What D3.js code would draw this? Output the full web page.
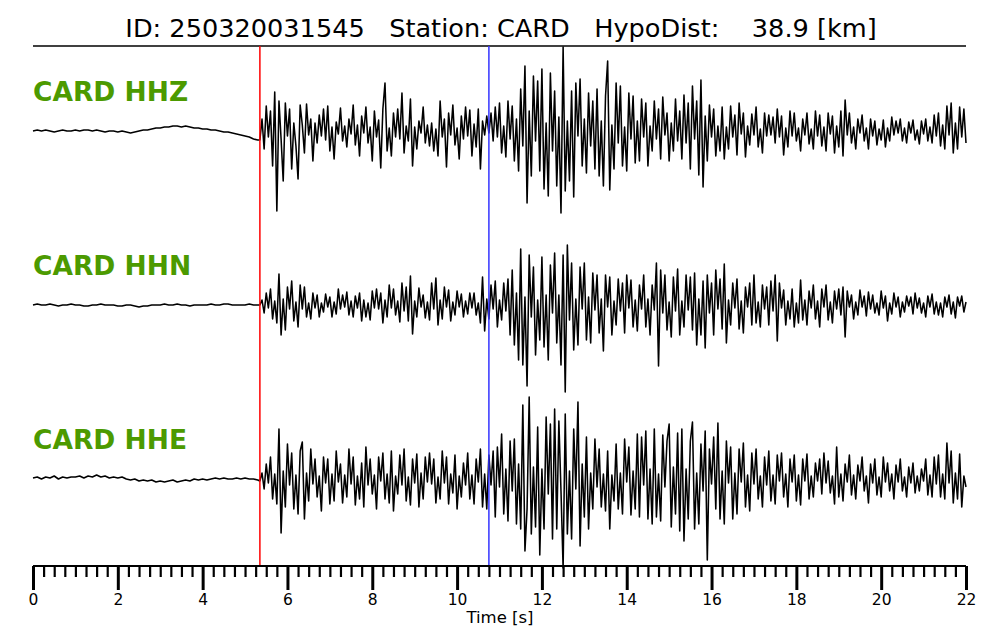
<!DOCTYPE html>
<html><head><meta charset="utf-8">
<script src="https://cdn.jsdelivr.net/npm/d3@7"></script>
<style>body{margin:0;background:#fff}svg{display:block}</style>
</head><body><svg id="c" width="1000" height="640"></svg>
<script>
// ---------- data ----------
const eventId = "250320031545";
const station = "CARD";
const hypoDist = "38.9";
const channels = ["HHZ", "HHN", "HHE"];
const pPick = 5.35;     // s
const sPick = 10.75;    // s
const preDt = 0.1;      // s, samples from t=0
const postStart = 5.35; // s
const postDt = 0.05;    // s
const timeMax = 22;
const majorTicks = [0, 2, 4, 6, 8, 10, 12, 14, 16, 18, 20, 22];

// amplitudes (counts)
const hhzPre = [0,1,0,1,0,-1,0,1,0,0, 1,0,1,1,0,1,0,-1,0,0, -1,0,-1,-2,-1,0,1,1,2,3,
  3,4,4,5,5,4,5,4,3,3, 2,2,1,1,0,-1,-1,-2,-3,-4, -5,-6,-8,-9];
const hhzPost = [
  -9,12,-18,25,-6,20,-35,39,-80,30,-8,-50,28,-5,22,-38,8,-15,-48,26,
  6,-22,27,-4,12,-30,8,-12,16,-5,22,-9,25,-20,4,-28,9,-3,23,-10,
  5,-16,12,-3,26,-14,6,-25,15,-2,24,-12,4,-30,20,-6,11,-37,22,48,
  -20,3,-25,18,-6,22,-8,38,-22,5,-10,32,-35,4,-18,10,-2,24,-12,6,
  -15,8,-20,2,-25,30,-6,12,-36,18,-4,26,-14,3,-28,15,-8,24,-5,21,
  -25,7,-16,22,-38,10,-4,15,-2,18,-10,24,-6,28,-22,5,-26,30,-8,25,
  -30,12,-40,42,-15,65,-72,20,-45,55,-10,50,-40,62,-58,8,-65,58,-20,40,
  -55,14,-82,84,-60,10,-50,40,-66,48,-5,52,-35,12,-42,38,-15,30,-38,42,
  -45,10,-55,35,70,-59,6,-38,48,-12,45,-35,4,-40,38,-8,35,-32,10,-30,
  32,-6,28,-35,5,-20,30,-8,22,-28,34,-4,18,-30,8,-20,32,-10,20,-28,
  36,-12,28,-38,45,-8,30,-44,51,-56,15,-30,26,-6,22,-25,5,-20,24,-28,
  4,-18,25,-6,16,-24,28,-3,18,-26,5,-14,17,-4,24,-16,2,-22,18,-5,
  16,-4,14,-12,22,-6,15,-24,3,-16,20,-5,18,-10,3,-20,12,-4,18,-13,
  2,-18,20,-5,16,-15,4,-20,18,-3,15,-22,5,-16,20,-25,31,-4,18,-12,
  4,-18,12,-2,16,-10,3,-18,12,-5,10,-14,2,-9,11,-16,3,-10,14,-4,
  10,-2,12,-10,3,-12,9,-2,11,-9,1,-13,10,-3,12,-10,4,-12,16,-5,
  18,-15,6,-18,25,-4,28,-22,8,-18,24,-6,22,-12];

const hhnPre = [0,1,0,0,1,0,-1,0,0,1, 0,0,-1,-1,0,0,1,0,0,0, -1,-1,0,0,-1,-2,-1,-1,0,0,
  0,1,0,0,1,0,0,-1,0,0, 0,0,1,0,0,1,1,0,0,0, 0,1,0,0];
const hhnPost = [
  0,5,-8,12,-3,16,-14,4,-18,31,-30,6,-25,18,-4,24,-16,3,-22,20,
  -4,18,-12,2,-14,12,-3,10,-12,2,-7,11,-2,8,-12,3,-9,16,-4,10,
  -2,13,-10,4,-12,9,-3,12,-16,5,-12,2,-15,14,-3,16,-4,12,-18,5,
  -12,20,-3,16,-10,4,-17,22,-6,18,-16,29,-29,4,-12,17,-2,10,-13,3,
  -15,22,-4,27,-20,5,-14,18,-2,15,-16,3,-10,14,-2,11,-12,4,-9,12,
  -3,12,-10,2,-18,28,-26,6,-14,20,-4,24,-22,5,-15,22,-6,26,-30,35,
  -40,12,-55,56,-60,8,-81,50,-12,38,-50,5,-35,48,-42,10,-55,40,-8,52,
  -38,10,-60,50,-87,60,-15,42,-45,6,-40,38,-4,42,-35,8,-38,32,-5,30,
  -28,6,-46,30,-2,28,-30,4,-20,26,-6,22,-28,30,-3,25,-22,5,-26,20,
  -4,30,-22,6,-30,20,-5,42,-61,35,-8,30,-25,3,-32,28,-6,36,-30,4,
  -22,30,-5,28,-25,32,-40,6,-30,24,-43,30,-8,22,-30,35,-4,26,-24,41,
  -38,5,-20,22,-3,26,-24,4,-28,18,-2,22,-20,30,-18,3,-22,20,-4,18,
  -20,24,-6,30,-36,22,-3,15,-20,4,-14,16,-22,2,-18,25,-15,5,-20,14,
  -3,20,-14,4,-22,16,-2,20,-15,3,-18,14,-4,16,-10,18,-32,14,-2,10,
  -14,3,-10,15,-2,9,-11,13,-4,10,-8,2,-10,14,-3,9,-16,2,-9,12,
  -2,8,-12,3,-7,9,-1,8,-9,12,-3,7,-8,2,-12,9,-2,11,-9,3,
  -10,2,-12,8,-2,10,-9,3,-13,8,-1,9,-7,3];

const hhePre = [1,2,0,2,1,3,0,2,1,2, 2,3,1,3,2,4,2,3,1,2, 1,2,0,-1,0,-2,-1,-2,-1,-3,
  -2,-3,-2,-1,-3,-2,-1,-2,0,-1, 0,-1,0,1,0,1,0,0,1,0, 1,0,0,-1];
const hhePost = [
  -2,6,-10,15,-4,22,-20,5,-25,50,-54,8,-28,35,-6,26,-30,4,-35,28,
  37,-40,6,-22,30,-5,20,-18,3,-32,22,-4,20,-25,5,-22,28,-3,15,-24,
  4,-18,30,-5,22,-26,3,-20,16,-28,32,-6,20,-15,4,-30,22,-2,26,-20,
  5,-24,28,-32,3,-15,24,-6,30,-22,2,-26,20,-4,25,-28,6,-20,22,-3,
  26,-5,20,-24,2,-20,28,-4,22,-25,5,-14,24,-30,3,-18,16,-6,26,-20,
  4,-25,20,-3,30,-28,5,-30,24,-6,28,-38,32,-8,45,-35,10,-42,38,-12,
  40,-45,15,-50,74,-72,-30,82,-55,12,-48,52,-76,10,-50,62,-15,55,-60,70,
  -50,58,-12,-89,65,-55,8,-60,50,-10,77,-67,15,-38,42,-50,6,-30,40,-8,
  30,-28,5,-32,28,-50,4,-22,35,-30,6,-35,40,-3,32,-36,8,-30,45,-38,
  42,-6,48,-40,10,-45,50,-38,5,-42,44,-8,38,55,-48,12,-35,46,-52,50,
  -62,10,-40,38,57,-50,6,-45,35,-12,48,-81,30,-5,42,-30,56,-40,8,-45,
  38,-4,32,-40,6,-35,30,-3,36,-28,4,-32,26,-5,30,-20,3,-28,22,-6,
  28,-22,4,-25,24,-2,26,-18,5,-28,20,-3,24,-22,4,-26,20,-2,25,-20,
  3,-18,16,-2,20,-15,26,-4,18,-14,3,-25,32,-18,5,-22,15,-3,24,-16,
  4,-20,14,-2,22,-12,3,-24,15,-4,20,-16,2,-18,22,-3,16,-12,5,-20,
  14,-3,20,-12,2,-18,12,-4,16,-14,3,-12,10,-2,20,-16,4,-18,22,-5,
  24,-18,5,-20,36,-4,28,-24,6,-20,25,-28,3,-8];

const traces = [
  {ch: "HHZ", pre: hhzPre, post: hhzPost},
  {ch: "HHN", pre: hhnPre, post: hhnPost},
  {ch: "HHE", pre: hhePre, post: hhePost}
];

// ---------- drawing ----------
const svg = d3.select("#c");
const font = "'DejaVu Sans', sans-serif";
const left = 33, right = 966, topLine = 46, axisY = 566;

const x = d3.scaleLinear().domain([0, timeMax]).range([left, right]);
const center = d3.scalePoint().domain(channels).range([131, 479]);

// title
svg.append("text")
  .attr("x", 501).attr("y", 37)
  .attr("text-anchor", "middle")
  .style("white-space", "pre")
  .attr("font-family", font).attr("font-size", 25.6).attr("fill", "#000")
  .text(`ID: ${eventId}   Station: ${station}   HypoDist:    ${hypoDist} [km]`);

svg.append("line")
  .attr("x1", left).attr("x2", right).attr("y1", topLine).attr("y2", topLine)
  .attr("stroke", "#000").attr("stroke-width", 1.3);

// traces
traces.forEach(tr => {
  const c = center(tr.ch);
  const y = d3.scaleLinear().domain([-90, 90]).range([c + 90, c - 90]);
  const pts = tr.pre.map((v, i) => [i * preDt, v])
    .concat(tr.post.map((v, i) => [postStart + i * postDt, v]));
  const line = d3.line().x(d => x(d[0])).y(d => y(d[1]));
  svg.append("path")
    .attr("d", line(pts))
    .attr("fill", "none").attr("stroke", "#000")
    .attr("stroke-width", 1.55).attr("stroke-linejoin", "round");
  svg.append("text")
    .attr("x", left).attr("y", c - 30)
    .attr("font-family", font).attr("font-weight", "bold")
    .attr("font-size", 26.5).attr("fill", "#4c9a00")
    .text(`${station} ${tr.ch}`);
});

// picks
[[pPick, "#ff0000"], [sPick, "#3434ff"]].forEach(([t, col]) => {
  svg.append("line")
    .attr("x1", x(t)).attr("x2", x(t)).attr("y1", topLine).attr("y2", axisY)
    .attr("stroke", col).attr("stroke-width", 1.5);
});

// axis
const axisG = svg.append("g").attr("transform", `translate(0,${axisY})`);
const minorTicks = d3.range(0, timeMax + 0.001, 0.25).filter(t => Math.abs(t / 2 - Math.round(t / 2)) > 1e-6);
axisG.append("g").call(
  d3.axisBottom(x).tickValues(minorTicks).tickSize(11).tickFormat("")
).call(g => { g.select(".domain").remove(); g.selectAll("line").attr("stroke-width", 2.2); });
const major = axisG.append("g").call(
  d3.axisBottom(x).tickValues(majorTicks).tickSize(24).tickPadding(4).tickFormat(d3.format("d"))
);
major.select(".domain").attr("stroke-width", 2).attr("d", `M${left},0H${right}`);
major.selectAll("line").attr("stroke-width", 3);
major.selectAll("text").attr("font-family", font).attr("font-size", 15.5).attr("fill", "#000");

svg.append("text")
  .attr("x", 500).attr("y", 623).attr("text-anchor", "middle")
  .attr("font-family", font).attr("font-size", 16.5).attr("fill", "#000")
  .text("Time [s]");
</script></body></html>
